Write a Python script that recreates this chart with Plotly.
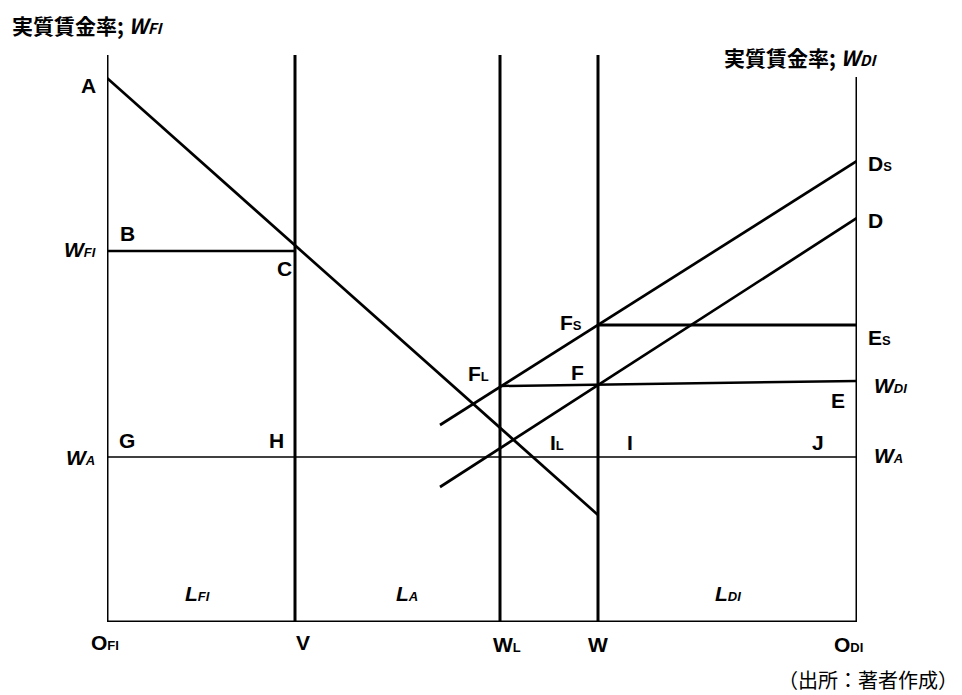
import plotly.graph_objects as go

# ---- data (diagram coordinates: x = labour quantity, y = real wage) ----
vline_names = ["O_FI", "V", "W_L", "W", "O_DI"]
vline_x = [0, 188, 393, 491, 750]
vline_top = [567, 567, 567, 567, 545]

axis_x = [0, 750]            # bottom axis O_FI .. O_DI
curve_A_x = [0, 491]          # FI labour demand (A ...)
curve_A_y = [544, 107]
wage_FI_x = [0, 188]          # B - C
wage_FI_y = [371, 371]
wage_A_x = [0, 750]           # G ... J (W_A)
wage_A_y = [165, 165]
curve_Ds_x = [333, 750]       # supply curve Ds
curve_Ds_y = [197, 461]
curve_D_x = [333, 750]        # supply curve D
curve_D_y = [135, 404]
FsEs_x = [491, 750]           # Fs - Es
FsEs_y = [297, 297]
FLE_x = [393, 750]            # FL - F - E (W_DI)
FLE_y = [236, 241]

XR = [0, 750]
YR = [0, 567]
BOLD = "Liberation Sans"
CJK = "Noto Sans CJK JP"
FS = 21
SS = 13

fig = go.Figure()

def line(x, y, w):
    fig.add_trace(go.Scatter(x=x, y=y, mode="lines", cliponaxis=False,
                             line=dict(color="black", width=w),
                             hoverinfo="skip", showlegend=False))

for vx, vt in zip(vline_x, vline_top):
    line([vx, vx], [0, vt], 3)
line(axis_x, [0, 0], 3)
line(curve_A_x, curve_A_y, 2.7)
line(wage_FI_x, wage_FI_y, 2.7)
line(wage_A_x, wage_A_y, 1.5)
line(curve_Ds_x, curve_Ds_y, 2.7)
line(curve_D_x, curve_D_y, 2.7)
line(FsEs_x, FsEs_y, 3)
line(FLE_x, FLE_y, 2.5)

def px(x):
    return (x - XR[0]) / (XR[1] - XR[0])

def py(y):
    return (y - YR[0]) / (YR[1] - YR[0])

def note(text, x, y, xa="center", family=BOLD, size=FS):
    fig.add_annotation(x=px(x), y=py(y), xref="paper", yref="paper",
                       text=text, showarrow=False, xanchor=xa, yanchor="middle",
                       font=dict(family=family, size=size, color="black"))

def sub(main, s, italic=False, size=SS):
    m = f"<i>{main}</i>" if italic else main
    ss = f"<i>{s}</i>" if italic else s
    return f"<b>{m}<span style='font-size:{size}px'>{ss}</span></b>"

labels = [
    ("A", -19, 537, "center"),
    ("B", 20, 389, "center"),
    ("C", 177, 354, "center"),
    ("G", 20, 182, "center"),
    ("H", 169, 182, "center"),
    ("I", 523, 180, "center"),
    ("J", 711, 180, "center"),
    ("E", 731, 222, "center"),
    ("F", 470, 250, "center"),
    ("D", 759, 402, "left"),
    ("V", 196, -20, "center"),
    ("W", 491, -22, "center"),
]
for t, x, y, xa in labels:
    note(f"<b>{t}</b>", x, y, xa)

sublabels = [
    ("W", "FI", True, -9, 373, "right"),
    ("W", "A", True, -10, 165, "right"),
    ("W", "A", True, 765, 167, "left"),
    ("W", "DI", True, 765, 237, "left"),
    ("E", "S", False, 759, 285, "left"),
    ("D", "S", False, 759, 459, "left"),
    ("F", "S", False, 464, 300, "center"),
    ("F", "L", False, 371, 249, "center"),
    ("I", "L", False, 450, 180, "center"),
    ("O", "FI", False, -2, -20, "center"),
    ("W", "L", False, 400, -22, "center"),
    ("O", "DI", False, 741, -22, "center"),
]
for m, s, it, x, y, xa in sublabels:
    note(sub(m, s, it), x, y, xa)

for m, s, x in [("L", "FI", 90), ("L", "A", 300), ("L", "DI", 621)]:
    note(f"<b><i>{m}<span style='font-size:{SS}px'>{s}</span></i></b>", x, 29)

note(f"<b>実質賃金率; <i>W<span style='font-size:{SS + 2}px'>FI</span></i></b>",
     -97, 597, "left", CJK, 21)
note(f"<b>実質賃金率; <i>W<span style='font-size:{SS + 2}px'>DI</span></i></b>",
     615, 565, "left", CJK, 21)
note("（出所：著者作成）", 853, -58, "right", CJK, 20)

fig.update_xaxes(range=XR, visible=False, fixedrange=True)
fig.update_yaxes(range=YR, visible=False, fixedrange=True)
# page body has an 8px margin, so shift the plot area accordingly
fig.update_layout(width=962, height=695,
                  margin=dict(l=99, r=113, t=47, b=81, pad=0),
                  plot_bgcolor="white", paper_bgcolor="white")

fig.write_html("out.html")
